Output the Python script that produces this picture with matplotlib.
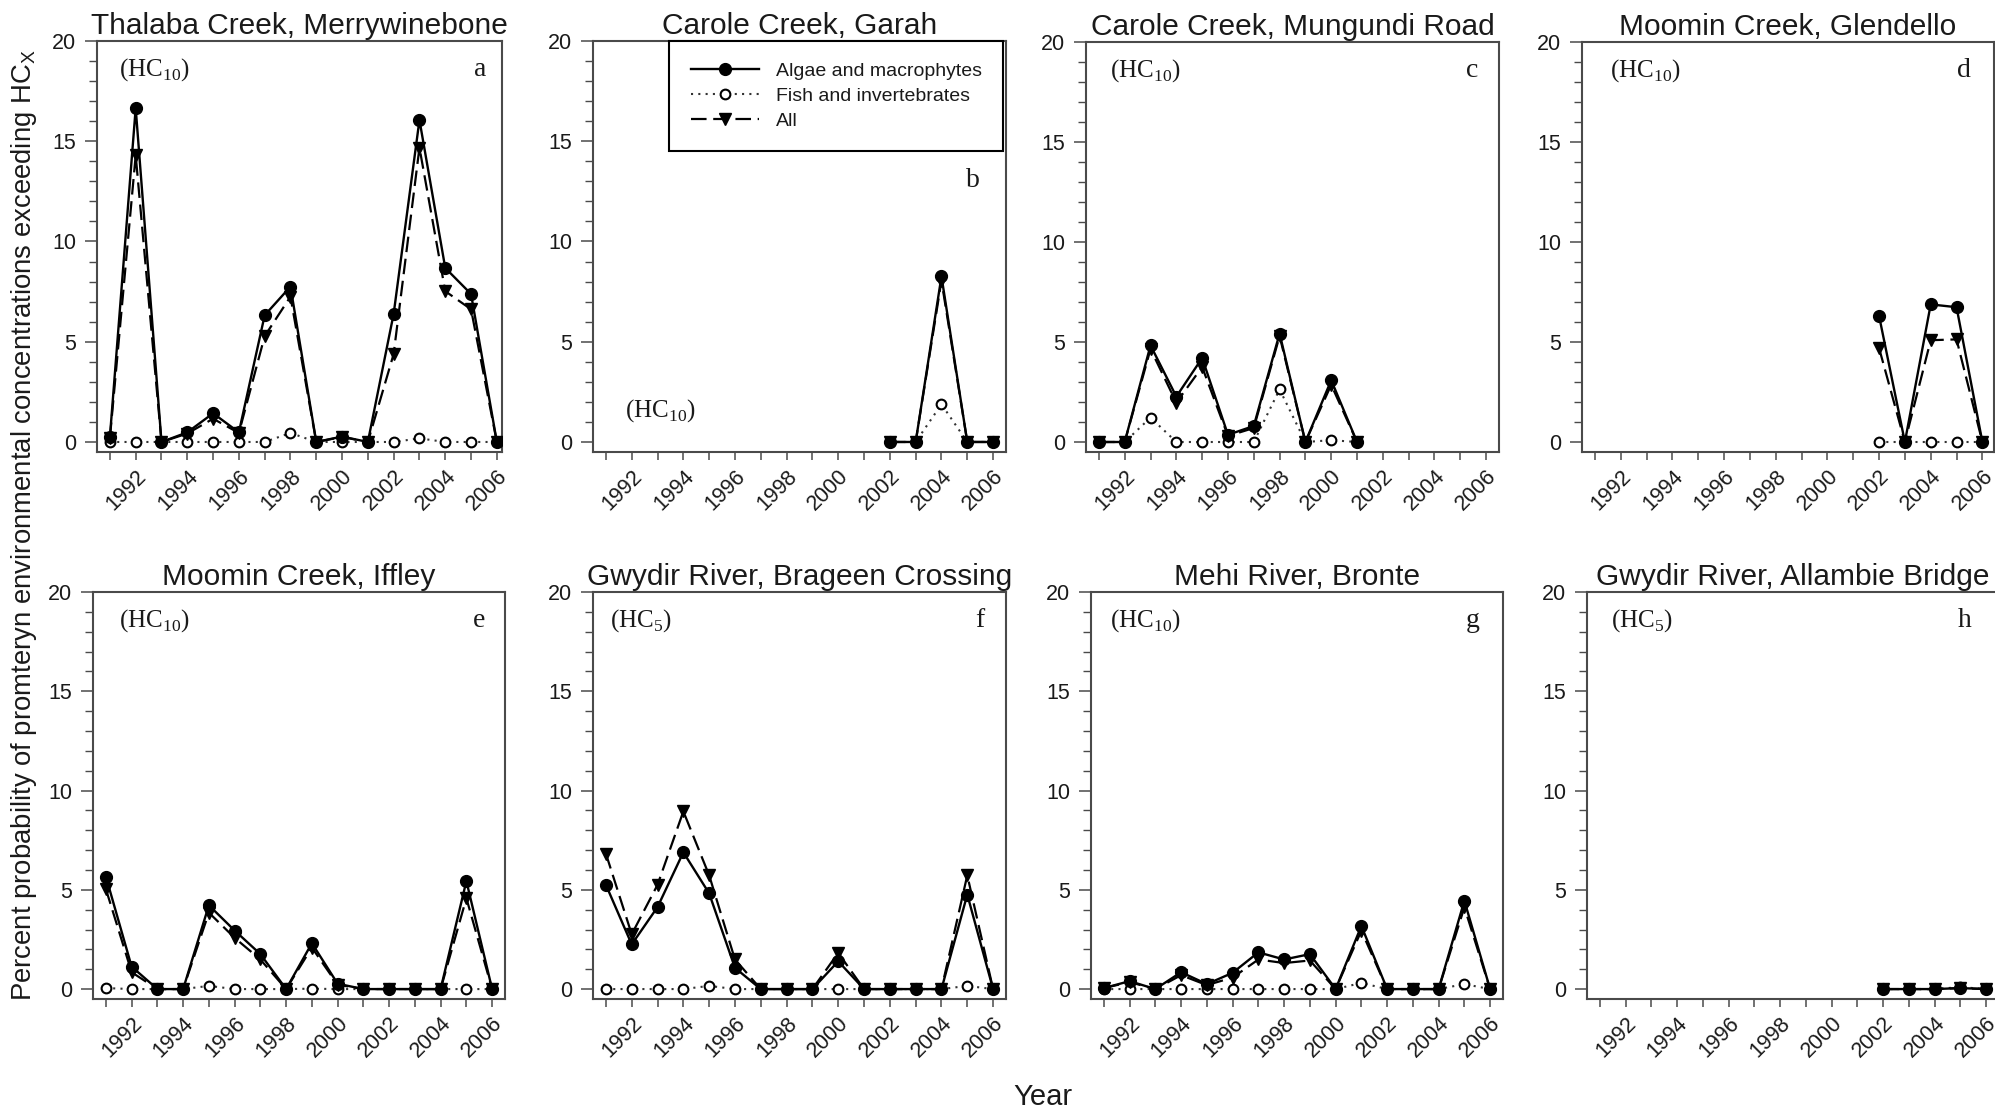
import matplotlib
matplotlib.use('Agg')
import matplotlib.pyplot as plt
from matplotlib.ticker import MultipleLocator
from matplotlib.lines import Line2D
from matplotlib.transforms import ScaledTranslation

plt.rcParams['font.family'] = ['Liberation Sans', 'DejaVu Sans']

# ---------------- data ----------------
years_all = [1991, 1992, 1993, 1994, 1995, 1996, 1997, 1998, 1999, 2000, 2001, 2002, 2003, 2004, 2005, 2006]
years_c = [1991, 1992, 1993, 1994, 1995, 1996, 1997, 1998, 1999, 2000, 2001]
years_late = [2002, 2003, 2004, 2005, 2006]

titles = ["Thalaba Creek, Merrywinebone", "Carole Creek, Garah", "Carole Creek, Mungundi Road",
          "Moomin Creek, Glendello", "Moomin Creek, Iffley", "Gwydir River, Brageen Crossing",
          "Mehi River, Bronte", "Gwydir River, Allambie Bridge"]
hc_labels = ["10", "10", "10", "10", "10", "5", "10", "5"]
panel_letters = ["a", "b", "c", "d", "e", "f", "g", "h"]
series_names = ["Algae and macrophytes", "Fish and invertebrates", "All"]

# a - Thalaba Creek, Merrywinebone
algae_a = [0.25, 16.65, 0, 0.48, 1.43, 0.48, 6.32, 7.75, 0, 0.27, 0, 6.39, 16.06, 8.68, 7.38, 0]
fish_a = [0, 0, 0, 0, 0, 0, 0, 0.45, 0, 0, 0, 0, 0.18, 0, 0, 0]
all_a = [0.2, 14.3, 0, 0.42, 1.16, 0.45, 5.28, 7.25, 0, 0.25, 0, 4.39, 14.68, 7.52, 6.62, 0]

# b - Carole Creek, Garah
algae_b = [0, 0, 8.26, 0, 0]
fish_b = [0, 0, 1.88, 0, 0]
all_b = [0, 0, 8.05, 0, 0]

# c - Carole Creek, Mungundi Road
algae_c = [0, 0, 4.83, 2.27, 4.2, 0.36, 0.8, 5.42, 0, 3.09, 0]
fish_c = [0, 0, 1.22, 0, 0, 0, 0, 2.63, 0, 0.09, 0]
all_c = [0, 0, 4.65, 1.97, 3.75, 0.3, 0.7, 5.3, 0, 2.86, 0]

# d - Moomin Creek, Glendello
algae_d = [6.31, 0, 6.88, 6.74, 0]
fish_d = [0, 0, 0, 0, 0]
all_d = [4.7, 0, 5.09, 5.13, 0]

# e - Moomin Creek, Iffley
algae_e = [5.67, 1.13, 0, 0, 4.22, 2.95, 1.76, 0, 2.31, 0.27, 0, 0, 0, 0, 5.44, 0]
fish_e = [0.05, 0, 0, 0, 0.16, 0, 0, 0, 0.02, 0, 0, 0, 0, 0, 0, 0]
all_e = [5.04, 0.85, 0, 0, 3.85, 2.58, 1.49, 0, 2.09, 0.22, 0, 0, 0, 0, 4.58, 0]

# f - Gwydir River, Brageen Crossing
algae_f = [5.25, 2.25, 4.13, 6.89, 4.82, 1.07, 0, 0, 0, 1.4, 0, 0, 0, 0, 4.76, 0]
fish_f = [0, 0, 0, 0, 0.16, 0, 0, 0, 0, 0, 0, 0, 0, 0, 0.16, 0]
all_f = [6.82, 2.76, 5.25, 8.95, 5.73, 1.49, 0, 0, 0, 1.82, 0, 0, 0, 0, 5.73, 0]

# g - Mehi River, Bronte
algae_g = [0.05, 0.4, 0, 0.85, 0.25, 0.82, 1.85, 1.49, 1.76, 0, 3.18, 0, 0, 0, 4.45, 0]
fish_g = [0, 0, 0, 0, 0, 0, 0, 0, 0, 0, 0.31, 0, 0, 0, 0.25, 0]
all_g = [0.05, 0.35, 0, 0.7, 0.2, 0.58, 1.49, 1.31, 1.44, 0, 2.94, 0, 0, 0, 4.12, 0]

# h - Gwydir River, Allambie Bridge
algae_h = [0, 0, 0, 0.05, 0]
fish_h = [0, 0, 0, 0.1, 0]
all_h = [0, 0, 0, 0.05, 0]

year_ticks = [1991, 1992, 1993, 1994, 1995, 1996, 1997, 1998, 1999, 2000, 2001, 2002, 2003, 2004, 2005, 2006]
year_labels = ["", "1992", "", "1994", "", "1996", "", "1998", "", "2000", "", "2002", "", "2004", "", "2006"]

panels = [
    (years_all, algae_a, fish_a, all_a),
    (years_late, algae_b, fish_b, all_b),
    (years_c, algae_c, fish_c, all_c),
    (years_late, algae_d, fish_d, all_d),
    (years_all, algae_e, fish_e, all_e),
    (years_all, algae_f, fish_f, all_f),
    (years_all, algae_g, fish_g, all_g),
    (years_late, algae_h, fish_h, all_h),
]

# ---------------- layout ----------------
W, H = 1995, 1110
fig = plt.figure(figsize=(W / 100, H / 100), dpi=100)

# pixel boxes: (left, right, top, bottom)
boxes = [(97, 502, 41, 452), (593, 1006, 41, 452), (1086, 1499, 42, 452), (1582, 1994, 42, 452),
         (93, 505, 592, 999), (593, 1006, 592, 999), (1091, 1503, 592, 999), (1587, 1999, 592, 999)]
xmax = [2006.2, 2006.5, 2006.5, 2006.45, 2006.5, 2006.5, 2006.5, 2006.5]
hc_pos = [(0.055, 0.93), (0.078, 0.10), (0.058, 0.93), (0.068, 0.93),
          (0.063, 0.93), (0.041, 0.93), (0.046, 0.93), (0.058, 0.93)]
letter_pos = [(0.945, 0.93), (0.92, 0.66), (0.935, 0.93), (0.927, 0.93),
              (0.937, 0.93), (0.937, 0.93), (0.927, 0.93), (0.917, 0.93)]

spine_col = '#4a4a4a'
txt_col = '#1a1a1a'

algae_style = dict(color='black', linestyle='-', linewidth=1.7, marker='o', markersize=8.5,
                   markerfacecolor='black', markeredgecolor='black')
fish_style = dict(color='#333333', linestyle=(0, (1, 2.5)), linewidth=1.5, marker='o', markersize=7,
                  markerfacecolor='white', markeredgecolor='black', markeredgewidth=1.5)
all_style = dict(color='black', linestyle=(0, (7, 3)), linewidth=1.6, marker='v', markersize=8.5,
                 markerfacecolor='black', markeredgecolor='black')

for i, (yrs, alg, fish, al) in enumerate(panels):
    l, r, t, b = boxes[i]
    ax = fig.add_axes([l / W, 1 - b / H, (r - l) / W, (b - t) / H])
    ax.plot(yrs, fish, zorder=2, **fish_style)
    ax.plot(yrs, al, zorder=3, **all_style)
    ax.plot(yrs, alg, zorder=4, **algae_style)
    ax.set_xlim(1990.5, xmax[i])
    ax.set_ylim(-0.5, 20)
    ax.set_yticks([0, 5, 10, 15, 20])
    ax.yaxis.set_minor_locator(MultipleLocator(1))
    ax.set_xticks(year_ticks)
    ax.set_xticklabels(year_labels, rotation=45, ha='right', va='top', rotation_mode='anchor')
    for lab in ax.get_xticklabels():
        lab.set_transform(lab.get_transform() + ScaledTranslation(5 / 72, 0, fig.dpi_scale_trans))
    for s in ['left', 'right', 'top', 'bottom']:
        ax.spines[s].set_color(spine_col)
        ax.spines[s].set_linewidth(1.5)
    ax.tick_params(axis='y', which='major', length=9, width=1.1, color=spine_col,
                   labelsize=15.5, pad=6, labelcolor=txt_col)
    ax.tick_params(axis='y', which='minor', length=5.5, width=1.0, color=spine_col)
    ax.tick_params(axis='x', which='major', length=6, width=1.1, color=spine_col,
                   labelsize=15.5, pad=4, labelcolor=txt_col)
    ax.set_title(titles[i], fontsize=21.5, pad=5, color=txt_col)
    ax.text(hc_pos[i][0], hc_pos[i][1], '(HC$_\\mathregular{' + hc_labels[i] + '}$)',
            transform=ax.transAxes, family='Liberation Serif', fontsize=18, ha='left', va='center',
            color=txt_col)
    ax.text(letter_pos[i][0], letter_pos[i][1], panel_letters[i], transform=ax.transAxes,
            family='Liberation Serif', fontsize=20, ha='center', va='center', color=txt_col)
    if i == 1:
        handles = [Line2D([], [], **algae_style), Line2D([], [], **fish_style), Line2D([], [], **all_style)]
        leg = ax.legend(handles, series_names, loc='upper right', bbox_to_anchor=(0.993, 1.0),
                        borderaxespad=0.0, fontsize=14, handlelength=3.5, handletextpad=0.87,
                        labelspacing=0.38, borderpad=1.1, fancybox=False, framealpha=1, numpoints=1)
        leg.get_frame().set_edgecolor('black')
        leg.get_frame().set_linewidth(1.5)
        for tx in leg.get_texts():
            tx.set_color(txt_col)

fig.text(24 / W, 1 - 525 / H,
         'Percent probability of promteryn environmental concentrations exceeding HC$_\\mathregular{X}$',
         rotation=90, ha='center', va='center', fontsize=19.8, color=txt_col)
fig.text(1043 / W, 1 - 1097 / H, 'Year', ha='center', va='center', fontsize=21, color=txt_col)

fig.savefig('out.png', dpi=100, facecolor='white')
